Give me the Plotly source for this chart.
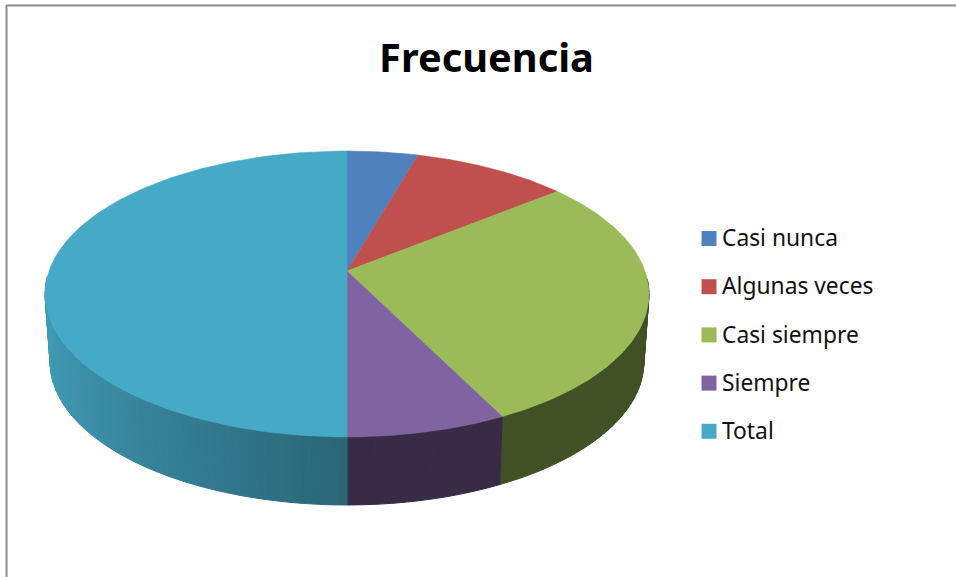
import numpy as np
import plotly.graph_objects as go

TITLE = "Frecuencia"
categories = ["Casi nunca", "Algunas veces", "Casi siempre", "Siempre", "Total"]
values = [3.2, 7, 20.5, 5.3, 36]
colors = ["#4F81BD", "#C0504D", "#9BBB59", "#8064A2", "#46A9C5"]

# projection of the tilted disc, in page-like axis units
CX, HUB_Y, WIDTH_TOP, WIDTH_LOW = 347.0, 271.0, 298.0, 293.0
TILT_A, TILT_K, DEPTH = 95.7, 0.1608, 68.0
FONT = "Noto Sans"
KEY_X, TEXT_X, KEY_Y0, KEY_STEP, TEXT_DROP = 709.0, 722.0, 238.5, 48.2, 2.0


def project(theta, width, drop=0.0):
    u, v = np.sin(theta), np.cos(theta)
    den = 1 + TILT_K * v
    return CX + width * u / den, (HUB_Y - TILT_A * v) / den + drop


def shade(hex_color, factor):
    rgb = [int(hex_color[i:i + 2], 16) for i in (1, 3, 5)]
    return "rgb(%d,%d,%d)" % tuple(min(255, int(c * factor)) for c in rgb)


def side_factor(theta):
    u = np.sin(theta)
    if u >= 0:
        return 0.43
    return float(np.interp(u, [-1, -0.6, -0.2, 0], [0.92, 0.78, 0.66, 0.60]))


fig = go.Figure()
edges = np.cumsum([0] + values) / sum(values) * 2 * np.pi

for i, color in enumerate(colors):
    a0, a1 = edges[i], edges[i + 1]
    n = max(2, int((a1 - a0) / np.radians(1.5)))
    grid = np.linspace(a0, a1, n + 1)
    for t0, t1 in zip(grid[:-1], grid[1:]):
        if np.cos((t0 + t1) / 2) > -0.05:
            continue
        xa, ya = project(np.array([t0, t1]), WIDTH_TOP)
        xb, yb = project(np.array([t1, t0]), WIDTH_LOW, DEPTH)
        c = shade(color, side_factor((t0 + t1) / 2))
        fig.add_trace(go.Scatter(
            x=list(xa) + list(xb) + [xa[0]], y=list(ya) + list(yb) + [ya[0]],
            mode="lines", fill="toself", fillcolor=c,
            line=dict(color=c, width=1), hoverinfo="skip", showlegend=False))

for i, color in enumerate(colors):
    grid = np.linspace(edges[i], edges[i + 1], 120)
    xs, ys = project(grid, WIDTH_TOP)
    fig.add_trace(go.Scatter(
        x=[CX] + list(xs) + [CX], y=[HUB_Y] + list(ys) + [HUB_Y],
        mode="lines", fill="toself", fillcolor=color,
        line=dict(color=color, width=0.5), name=categories[i],
        hoverinfo="name", showlegend=False))

rows = [KEY_Y0 + KEY_STEP * i for i in range(len(categories))]
fig.add_trace(go.Scatter(
    x=[KEY_X] * len(categories), y=rows, mode="markers", hoverinfo="skip", showlegend=False,
    marker=dict(symbol="square", size=15, color=colors)))
fig.add_trace(go.Scatter(
    x=[TEXT_X] * len(categories), y=[r + TEXT_DROP for r in rows], mode="text",
    text=categories, hoverinfo="skip", textposition="middle right", showlegend=False,
    textfont=dict(family=FONT, size=22.8, color="#111111")))

fig.update_layout(
    width=956, height=577, margin=dict(l=0, r=0, t=0, b=0),
    paper_bgcolor="white", plot_bgcolor="white",
    xaxis=dict(range=[0, 956], visible=False, fixedrange=True),
    yaxis=dict(range=[577, 0], visible=False, fixedrange=True),
    title=dict(text="<b>%s</b>" % TITLE, x=486.5 / 956, xanchor="center",
               y=1 - 58 / 577, yanchor="middle",
               font=dict(family=FONT, size=39.8, color="black")),
    shapes=[
        dict(type="line", xref="paper", yref="paper", x0=6.5 / 956, x1=6.5 / 956, y0=0, y1=1 - 5 / 577,
             line=dict(color="#8c8c8c", width=2)),
        dict(type="line", xref="paper", yref="paper", x0=6 / 956, x1=1, y0=1 - 5.5 / 577, y1=1 - 5.5 / 577,
             line=dict(color="#8c8c8c", width=2)),
    ],
)
fig.write_html("out.html", config={"displayModeBar": False},
               post_script="document.body.style.margin='0';")
